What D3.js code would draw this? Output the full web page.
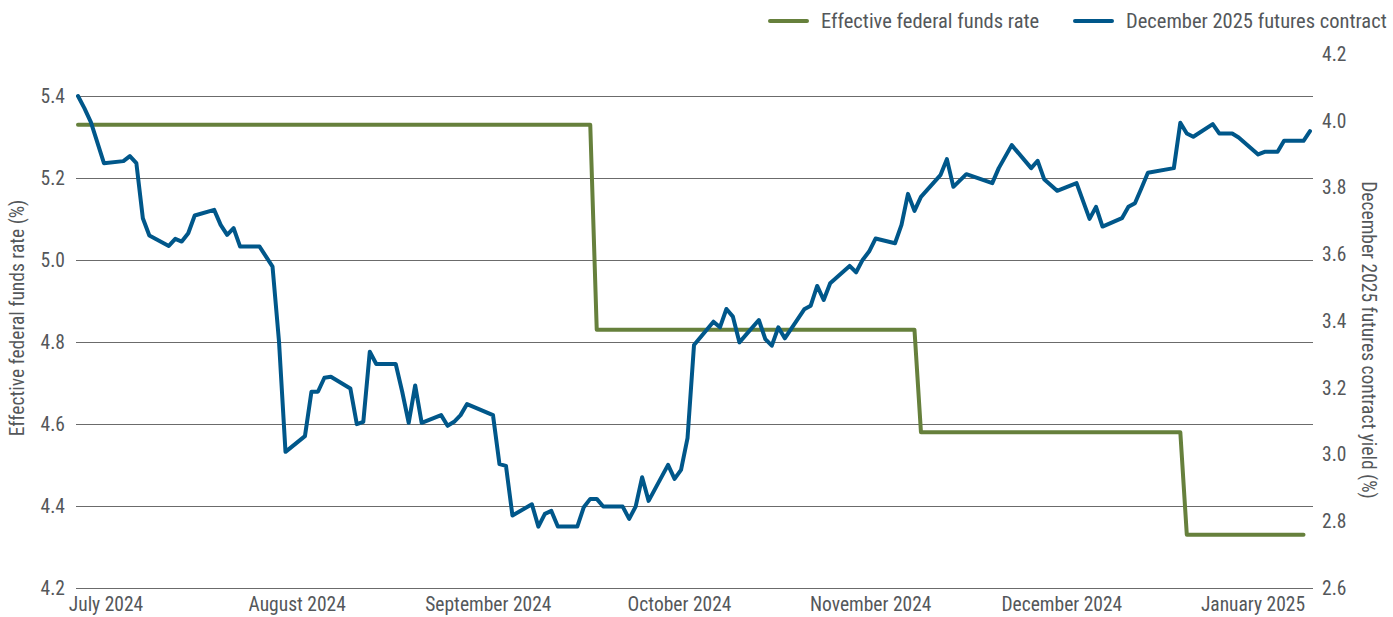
<!DOCTYPE html>
<html>
<head>
<meta charset="utf-8">
<script src="https://cdn.jsdelivr.net/npm/d3@7/dist/d3.min.js"></script>
<style>
  html, body { margin: 0; padding: 0; background: #fff; }
  svg text { font-family: Roboto, "Noto Sans", sans-serif; font-stretch: 80%; fill: #54575a; }
</style>
</head>
<body>
<svg id="chart" width="1393" height="617"></svg>
<script>
// ---------- DATA ----------
const fedDates = ["2024-07-01","2024-09-18","2024-09-19","2024-11-07","2024-11-08","2024-12-18","2024-12-19","2025-01-06"];
const fedValues = [5.33, 5.33, 4.83, 4.83, 4.58, 4.58, 4.33, 4.33];

const futDates = [
 "2024-07-01","2024-07-02","2024-07-03","2024-07-05","2024-07-08","2024-07-09","2024-07-10","2024-07-11","2024-07-12",
 "2024-07-15","2024-07-16","2024-07-17","2024-07-18","2024-07-19","2024-07-22","2024-07-23","2024-07-24","2024-07-25","2024-07-26",
 "2024-07-29","2024-07-31","2024-08-01","2024-08-02","2024-08-05","2024-08-06","2024-08-07","2024-08-08","2024-08-09",
 "2024-08-12","2024-08-13","2024-08-14","2024-08-15","2024-08-16","2024-08-19","2024-08-20","2024-08-21","2024-08-22","2024-08-23",
 "2024-08-26","2024-08-27","2024-08-28","2024-08-29","2024-08-30","2024-09-03","2024-09-04","2024-09-05","2024-09-06",
 "2024-09-09","2024-09-10","2024-09-11","2024-09-12","2024-09-13","2024-09-16","2024-09-17","2024-09-18","2024-09-19","2024-09-20",
 "2024-09-23","2024-09-24","2024-09-25","2024-09-26","2024-09-27","2024-09-30","2024-10-01","2024-10-02","2024-10-03","2024-10-04",
 "2024-10-07","2024-10-08","2024-10-09","2024-10-10","2024-10-11","2024-10-14","2024-10-15","2024-10-16","2024-10-17","2024-10-18",
 "2024-10-21","2024-10-22","2024-10-23","2024-10-24","2024-10-25","2024-10-28","2024-10-29","2024-10-30","2024-10-31","2024-11-01",
 "2024-11-04","2024-11-05","2024-11-06","2024-11-07","2024-11-08","2024-11-11","2024-11-12","2024-11-13","2024-11-15",
 "2024-11-19","2024-11-20","2024-11-22","2024-11-25","2024-11-26","2024-11-27","2024-11-29",
 "2024-12-02","2024-12-04","2024-12-05","2024-12-06","2024-12-09","2024-12-10","2024-12-11","2024-12-12","2024-12-13",
 "2024-12-17","2024-12-18","2024-12-19","2024-12-20","2024-12-23","2024-12-24","2024-12-26","2024-12-27",
 "2024-12-30","2024-12-31","2025-01-02","2025-01-03","2025-01-06","2025-01-07"
];
const futValues = [
 4.074,4.037,3.995,3.873,3.879,3.894,3.873,3.708,3.656,
 3.625,3.646,3.638,3.663,3.716,3.733,3.688,3.658,3.678,3.623,
 3.623,3.563,3.338,3.008,3.055,3.188,3.188,3.230,3.233,
 3.198,3.091,3.098,3.308,3.271,3.271,3.188,3.095,3.207,3.095,
 3.118,3.086,3.098,3.118,3.151,3.118,2.971,2.966,2.817,
 2.851,2.784,2.822,2.831,2.784,2.784,2.842,2.867,2.867,2.844,
 2.844,2.807,2.844,2.932,2.861,2.969,2.927,2.954,3.049,3.328,
 3.398,3.381,3.436,3.413,3.336,3.403,3.346,3.326,3.381,3.348,
 3.435,3.446,3.505,3.463,3.513,3.565,3.546,3.583,3.608,3.647,
 3.633,3.688,3.781,3.730,3.772,3.837,3.885,3.802,3.840,
 3.813,3.858,3.927,3.858,3.880,3.825,3.790,
 3.813,3.706,3.742,3.683,3.708,3.742,3.753,3.798,3.844,
 3.858,3.994,3.962,3.952,3.990,3.962,3.962,3.950,
 3.899,3.907,3.907,3.940,3.940,3.969
];

const leftTicks = [4.2, 4.4, 4.6, 4.8, 5.0, 5.2, 5.4];
const rightTicks = [2.6, 2.8, 3.0, 3.2, 3.4, 3.6, 3.8, 4.0, 4.2];
const monthLabels = ["July 2024","August 2024","September 2024","October 2024","November 2024","December 2024","January 2025"];
const seriesNames = ["Effective federal funds rate", "December 2025 futures contract"];
const leftTitle = "Effective federal funds rate (%)";
const rightTitle = "December 2025 futures contract yield (%)";

// ---------- STYLE ----------
const GREEN = "#66803c";
const BLUE = "#00578a";

const parse = d3.timeParse("%Y-%m-%d");
const svg = d3.select("#chart");

const x = d3.scaleTime().domain([parse("2024-07-01"), parse("2025-01-07")]).range([78, 1310]);
const yL = d3.scaleLinear().domain([4.2, 5.4]).range([588, 96]);
const yR = d3.scaleLinear().domain([2.6, 4.2]).range([588, 54]);
const xm = d3.scalePoint().domain(monthLabels).range([106, 1253]);

// gridlines
svg.append("g").selectAll("line").data(leftTicks).join("line")
  .attr("x1", 76).attr("x2", 1313)
  .attr("y1", d => Math.round(yL(d)) + 0.5).attr("y2", d => Math.round(yL(d)) + 0.5)
  .attr("stroke", "#6b6b6b").attr("stroke-width", 1);

// left tick labels
svg.append("g").selectAll("text").data(leftTicks).join("text")
  .attr("x", 65).attr("y", d => yL(d)).attr("dy", "0.35em")
  .attr("text-anchor", "end").attr("font-size", 19.5)
  .text(d => d3.format(".1f")(d));

// right tick labels
svg.append("g").selectAll("text").data(rightTicks).join("text")
  .attr("x", 1322).attr("y", d => yR(d)).attr("dy", "0.35em")
  .attr("text-anchor", "start").attr("font-size", 19.5)
  .text(d => d3.format(".1f")(d));

// month labels
svg.append("g").selectAll("text").data(monthLabels).join("text")
  .attr("x", d => xm(d)).attr("y", 611)
  .attr("text-anchor", "middle").attr("font-size", 19.5)
  .text(d => d);

// axis titles
svg.append("text")
  .attr("transform", "translate(24,318) rotate(-90)")
  .attr("text-anchor", "middle").attr("font-size", 19.5)
  .text(leftTitle);
svg.append("text")
  .attr("transform", "translate(1362,340) rotate(90)")
  .attr("text-anchor", "middle").attr("font-size", 19.5)
  .text(rightTitle);

// lines
const fed = fedDates.map((d, i) => ({ date: parse(d), value: fedValues[i] }));
const fut = futDates.map((d, i) => ({ date: parse(d), value: futValues[i] }));

svg.append("path").datum(fed)
  .attr("fill", "none").attr("stroke", GREEN).attr("stroke-width", 4)
  .attr("stroke-linejoin", "round").attr("stroke-linecap", "round")
  .attr("d", d3.line().x(d => x(d.date)).y(d => yL(d.value)));

svg.append("path").datum(fut)
  .attr("fill", "none").attr("stroke", BLUE).attr("stroke-width", 4)
  .attr("stroke-linejoin", "round").attr("stroke-linecap", "round")
  .attr("d", d3.line().x(d => x(d.date)).y(d => yR(d.value)));

// legend
const legend = [
  { name: seriesNames[0], color: GREEN, x: 770 },
  { name: seriesNames[1], color: BLUE, x: 1075 }
];
const lg = svg.append("g").selectAll("g").data(legend).join("g")
  .attr("transform", d => `translate(${d.x},21)`);
lg.append("line").attr("x1", 0).attr("x2", 37).attr("y1", 0).attr("y2", 0)
  .attr("stroke", d => d.color).attr("stroke-width", 4).attr("stroke-linecap", "round");
lg.append("text").attr("x", 51).attr("y", 0).attr("dy", "0.35em")
  .attr("font-size", 20.5).text(d => d.name);
</script>
</body>
</html>
